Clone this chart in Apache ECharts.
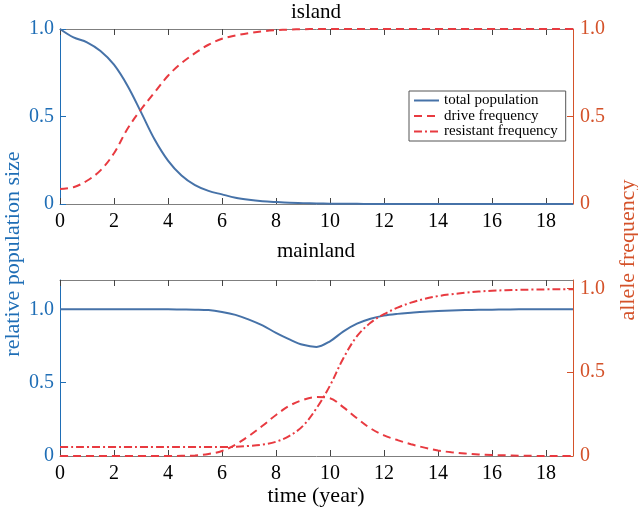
<!DOCTYPE html>
<html>
<head>
<meta charset="utf-8">
<script src="https://cdn.jsdelivr.net/npm/echarts@6/dist/echarts.min.js"></script>
<style>html,body{margin:0;padding:0;background:#fff;}#c{width:638px;height:507px;}</style>
</head>
<body>
<div id="c"></div>
<script>
// time points (years)
const time = [0,0.5,1,1.5,2,2.5,3,3.5,4,4.5,5,5.5,6,6.5,7,7.5,8,8.5,9,9.5,10,10.5,11,11.5,12,12.5,13,13.5,14,14.5,15,15.5,16,16.5,17,17.5,18,18.5,19];
// island
const islandPop = [1.0,0.952,0.924,0.874,0.796,0.676,0.525,0.37,0.248,0.163,0.108,0.075,0.055,0.036,0.024,0.016,0.011,0.007,0.005,0.003,0.002,0.001,0.001,0,0,0,0,0,0,0,0,0,0,0,0,0,0,0,0];
const islandDrive = [0.086,0.096,0.133,0.192,0.29,0.43,0.54,0.637,0.733,0.805,0.862,0.91,0.944,0.963,0.977,0.987,0.993,0.997,0.999,1,1,1,1,1,1,1,1,1,1,1,1,1,1,1,1,1,1,1,1];
// mainland
const mainPop = [1,1,1,1,1,1,1,1,1,0.999,0.998,0.995,0.982,0.962,0.93,0.89,0.84,0.795,0.758,0.744,0.782,0.85,0.902,0.936,0.957,0.969,0.977,0.984,0.988,0.992,0.995,0.997,0.998,0.999,1,1,1,1,1];
const mainDrive = [0,0,0,0,0,0,0,0,0,0.001,0.003,0.012,0.03,0.068,0.12,0.18,0.245,0.3,0.335,0.352,0.345,0.29,0.225,0.165,0.123,0.095,0.07,0.05,0.033,0.022,0.015,0.009,0.006,0.004,0.002,0.001,0,0,0];
const mainResist = [0.053,0.053,0.053,0.053,0.053,0.053,0.053,0.053,0.053,0.053,0.053,0.053,0.053,0.055,0.06,0.068,0.085,0.12,0.18,0.285,0.42,0.585,0.715,0.795,0.846,0.885,0.915,0.937,0.954,0.965,0.974,0.981,0.986,0.989,0.991,0.993,0.994,0.995,0.995];
const xTicks = [0,2,4,6,8,10,12,14,16,18];
const yTicks = [0,0.5,1];
const titles = ['island','mainland'];
const names = ['total population','drive frequency','resistant frequency'];

const FONT = '"Liberation Serif", "Times New Roman", serif';
const BLUE_AX = '#1f6eb6';
const RED_AX = '#d4522a';
const LINE_BLUE = '#4672a8';
const LINE_RED = '#e83a40';
const GRAY = '#7f7f7f';

function pairs(ys){ return time.map((t,i)=>[t, ys[i]]); }
function yfmt(v){ return v === 0 ? '0' : v.toFixed(1); }

const grids = [
  {left:60, right:65, top:29, height:175},
  {left:60, right:65, top:280, height:176}
];
const xAxes = [], yAxes = [];
[0,1].forEach(g=>{
  xAxes.push({type:'value', gridIndex:g, min:0, max:19, position:'bottom',
    axisLine:{show:true, onZero:false, lineStyle:{color:GRAY, width:1}},
    axisTick:{show:true, inside:true, length:6, customValues:xTicks, lineStyle:{color:'#444'}},
    axisLabel:{customValues:xTicks, color:'#000', fontFamily:FONT, fontSize:20, margin:8},
    splitLine:{show:false}});
  xAxes.push({type:'value', gridIndex:g, min:0, max:19, position:'top',
    axisLine:{show:true, onZero:false, lineStyle:{color:GRAY, width:1}},
    axisTick:{show:true, inside:true, length:6, customValues:xTicks, lineStyle:{color:'#444'}},
    axisLabel:{show:false}, splitLine:{show:false}});
});
const leftMax = [1, 1.2], rightMax = [1, 1.05];
[0,1].forEach(g=>{
  yAxes.push({type:'value', gridIndex:g, min:0, max:leftMax[g], position:'left',
    axisLine:{show:true, onZero:false, lineStyle:{color:BLUE_AX, width:1}},
    axisTick:{show:true, inside:true, length:6, customValues:yTicks, lineStyle:{color:BLUE_AX}},
    axisLabel:{customValues:yTicks, formatter:yfmt, color:BLUE_AX, fontFamily:FONT, fontSize:20, margin:6},
    splitLine:{show:false}});
  yAxes.push({type:'value', gridIndex:g, min:0, max:rightMax[g], position:'right',
    axisLine:{show:true, onZero:false, lineStyle:{color:RED_AX, width:1}},
    axisTick:{show:true, inside:true, length:6, customValues:yTicks, lineStyle:{color:RED_AX}},
    axisLabel:{customValues:yTicks, formatter:yfmt, color:RED_AX, fontFamily:FONT, fontSize:20, margin:7},
    splitLine:{show:false}});
});

const base = {type:'line', symbol:'circle', showSymbol:false, smooth:0.35, animation:false, z:3};
const series = [
  Object.assign({}, base, {name:names[0], xAxisIndex:0, yAxisIndex:0, data:pairs(islandPop),
    lineStyle:{color:LINE_BLUE, width:2}, itemStyle:{color:LINE_BLUE}}),
  Object.assign({}, base, {name:names[1], xAxisIndex:0, yAxisIndex:1, data:pairs(islandDrive),
    lineStyle:{color:LINE_RED, width:2, type:[8,5]}, itemStyle:{color:LINE_RED}}),
  Object.assign({}, base, {name:names[0], xAxisIndex:2, yAxisIndex:2, data:pairs(mainPop),
    lineStyle:{color:LINE_BLUE, width:2}, itemStyle:{color:LINE_BLUE}}),
  Object.assign({}, base, {name:names[1], xAxisIndex:2, yAxisIndex:3, data:pairs(mainDrive),
    lineStyle:{color:LINE_RED, width:2, type:[8,5]}, itemStyle:{color:LINE_RED}}),
  Object.assign({}, base, {name:names[2], xAxisIndex:2, yAxisIndex:3, data:pairs(mainResist),
    lineStyle:{color:LINE_RED, width:2, type:[8,3,2,3]}, itemStyle:{color:LINE_RED}})
];

function txt(text, x, y, size, color, rot){
  return {type:'text', x:x, y:y, rotation:rot||0, z:10,
    style:{text:text, font:size+'px '+FONT, fill:color, align:'center', verticalAlign:'middle',
      textAlign:'center', textVerticalAlign:'middle'}};
}

const chart = echarts.init(document.getElementById('c'), null, {renderer:'canvas'});
chart.setOption({
  backgroundColor:'#fff',
  animation:false,
  grid:grids,
  xAxis:xAxes,
  yAxis:yAxes,
  series:series,
  legend:{show:true, orient:'vertical', left:409, top:91, data:names,
    itemWidth:25, itemHeight:15, itemGap:0.5, padding:[2,8,2,4],
    borderColor:'#555', borderWidth:1, backgroundColor:'#fff',
    itemStyle:{opacity:0},
    textStyle:{fontFamily:FONT, fontSize:15, color:'#000'}},
  graphic:[
    txt(titles[0], 316, 12, 21, '#000'),
    txt(titles[1], 316, 251, 21, '#000'),
    txt('time (year)', 316, 496, 22, '#000'),
    txt('relative population size', 13, 254, 22, BLUE_AX, Math.PI/2),
    txt('allele frequency', 628, 250, 22, RED_AX, Math.PI/2)
  ]
});
</script>
</body>
</html>
